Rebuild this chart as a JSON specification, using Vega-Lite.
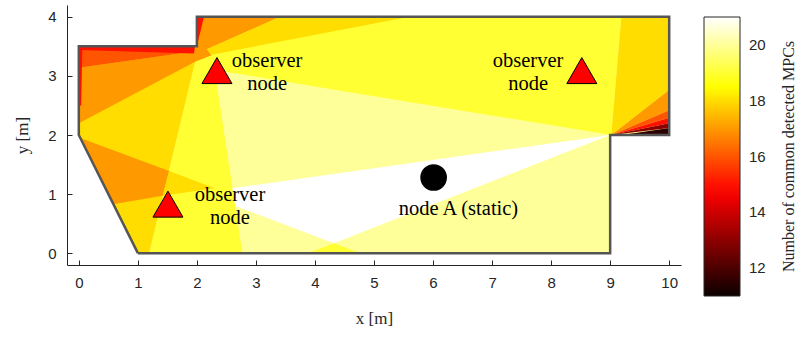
{
  "$schema": "https://vega.github.io/schema/vega-lite/v6.json",
  "width": 614,
  "height": 260,
  "autosize": "none",
  "padding": {"left": 67, "top": 5, "right": 121, "bottom": 74},
  "background": "white",
  "config": {
    "view": {"stroke": null},
    "axis": {
      "domainColor": "#262626", "tickColor": "#262626", "tickSize": -5, "grid": false, "format": "d",
      "labelFont": "Liberation Sans", "labelFontSize": 15, "labelColor": "#262626",
      "titleFont": "Liberation Serif", "titleFontSize": 17, "titleFontWeight": "normal", "titleColor": "#262626"
    }
  },
  "datasets": {
    "poly": [
      {"id": "p01", "o": 1, "x": 1, "y": 0, "v": 20},
      {"id": "p01", "o": 2, "x": 9, "y": 0, "v": 20},
      {"id": "p01", "o": 3, "x": 9, "y": 2, "v": 20},
      {"id": "p01", "o": 4, "x": 10, "y": 2, "v": 20},
      {"id": "p01", "o": 5, "x": 10, "y": 4, "v": 20},
      {"id": "p01", "o": 6, "x": 2, "y": 4, "v": 20},
      {"id": "p01", "o": 7, "x": 2, "y": 3.5, "v": 20},
      {"id": "p01", "o": 8, "x": 0, "y": 3.5, "v": 20},
      {"id": "p01", "o": 9, "x": 0, "y": 2, "v": 20},

      {"id": "p02", "o": 1, "x": 9.02, "y": 2.0, "v": 19},
      {"id": "p02", "o": 2, "x": 2.3, "y": 3.1, "v": 19},
      {"id": "p02", "o": 3, "x": 2.77, "y": 0, "v": 19},
      {"id": "p02", "o": 4, "x": 1.19, "y": 0, "v": 19},
      {"id": "p02", "o": 5, "x": 1.97, "y": 3.24, "v": 19},
      {"id": "p02", "o": 6, "x": 2.0, "y": 3.5, "v": 19},
      {"id": "p02", "o": 7, "x": 2.0, "y": 4.0, "v": 19},
      {"id": "p02", "o": 8, "x": 9.19, "y": 4.0, "v": 19},

      {"id": "p03", "o": 1, "x": 1, "y": 0, "v": 18},
      {"id": "p03", "o": 2, "x": 1.19, "y": 0, "v": 18},
      {"id": "p03", "o": 3, "x": 1.97, "y": 3.24, "v": 18},
      {"id": "p03", "o": 4, "x": 2.0, "y": 3.5, "v": 18},
      {"id": "p03", "o": 5, "x": 0, "y": 3.5, "v": 18},
      {"id": "p03", "o": 6, "x": 0, "y": 2, "v": 18},

      {"id": "p04", "o": 1, "x": 0, "y": 2.2, "v": 17},
      {"id": "p04", "o": 2, "x": 1.97, "y": 3.24, "v": 17},
      {"id": "p04", "o": 3, "x": 2.25, "y": 3.35, "v": 17},
      {"id": "p04", "o": 4, "x": 2.17, "y": 3.45, "v": 17},
      {"id": "p04", "o": 5, "x": 3.41, "y": 4.0, "v": 17},
      {"id": "p04", "o": 6, "x": 2.0, "y": 4.0, "v": 17},
      {"id": "p04", "o": 7, "x": 2.0, "y": 3.5, "v": 17},
      {"id": "p04", "o": 8, "x": 1.92, "y": 3.41, "v": 17},
      {"id": "p04", "o": 9, "x": 0, "y": 3.14, "v": 17},

      {"id": "p05", "o": 1, "x": 0, "y": 3.14, "v": 16},
      {"id": "p05", "o": 2, "x": 1.92, "y": 3.41, "v": 16},
      {"id": "p05", "o": 3, "x": 1.97, "y": 3.5, "v": 16},
      {"id": "p05", "o": 4, "x": 0, "y": 3.5, "v": 16},

      {"id": "p06", "o": 1, "x": 0, "y": 3.5, "v": 15},
      {"id": "p06", "o": 2, "x": 1.97, "y": 3.5, "v": 15},
      {"id": "p06", "o": 3, "x": 1.95, "y": 3.38, "v": 15},
      {"id": "p06", "o": 4, "x": 0, "y": 3.44, "v": 15},

      {"id": "p07", "o": 1, "x": 0, "y": 3.5, "v": 15},
      {"id": "p07", "o": 2, "x": 0.06, "y": 3.5, "v": 15},
      {"id": "p07", "o": 3, "x": 0.04, "y": 2.5, "v": 15},
      {"id": "p07", "o": 4, "x": 0, "y": 2.5, "v": 15},

      {"id": "p08", "o": 1, "x": 2.17, "y": 3.45, "v": 18},
      {"id": "p08", "o": 2, "x": 3.41, "y": 4.0, "v": 18},
      {"id": "p08", "o": 3, "x": 5.6, "y": 4.0, "v": 18},
      {"id": "p08", "o": 4, "x": 2.25, "y": 3.36, "v": 18},

      {"id": "p09", "o": 1, "x": 2.0, "y": 3.5, "v": 15},
      {"id": "p09", "o": 2, "x": 2.0, "y": 4.0, "v": 15},
      {"id": "p09", "o": 3, "x": 2.12, "y": 4.0, "v": 15},

      {"id": "p10", "o": 1, "x": 0.025, "y": 1.95, "v": 17},
      {"id": "p10", "o": 2, "x": 1.53, "y": 1.39, "v": 17},
      {"id": "p10", "o": 3, "x": 1.42, "y": 0.97, "v": 17},
      {"id": "p10", "o": 4, "x": 0.583, "y": 0.83, "v": 17},

      {"id": "p11", "o": 1, "x": 1.53, "y": 1.39, "v": 18},
      {"id": "p11", "o": 2, "x": 2.3, "y": 1.1, "v": 18},
      {"id": "p11", "o": 3, "x": 1.42, "y": 0.97, "v": 18},

      {"id": "p12", "o": 1, "x": 2.6, "y": 1.1, "v": 21},
      {"id": "p12", "o": 2, "x": 9.0, "y": 2.0, "v": 21},
      {"id": "p12", "o": 3, "x": 4.32, "y": 0.17, "v": 21},
      {"id": "p12", "o": 4, "x": 2.65, "y": 0.8, "v": 21},

      {"id": "p13", "o": 1, "x": 3.88, "y": 0, "v": 19},
      {"id": "p13", "o": 2, "x": 4.32, "y": 0.17, "v": 19},
      {"id": "p13", "o": 3, "x": 4.77, "y": 0, "v": 19},

      {"id": "p14", "o": 1, "x": 9.02, "y": 2.0, "v": 18},
      {"id": "p14", "o": 2, "x": 9.19, "y": 4.0, "v": 18},
      {"id": "p14", "o": 3, "x": 10, "y": 4.0, "v": 18},
      {"id": "p14", "o": 4, "x": 10, "y": 2.76, "v": 18},

      {"id": "p15", "o": 1, "x": 9.02, "y": 2.0, "v": 17},
      {"id": "p15", "o": 2, "x": 10, "y": 2.76, "v": 17},
      {"id": "p15", "o": 3, "x": 10, "y": 2.42, "v": 17},

      {"id": "p16", "o": 1, "x": 9.02, "y": 2.0, "v": 16},
      {"id": "p16", "o": 2, "x": 10, "y": 2.42, "v": 16},
      {"id": "p16", "o": 3, "x": 10, "y": 2.29, "v": 16},

      {"id": "p17", "o": 1, "x": 9.02, "y": 2.0, "v": 15},
      {"id": "p17", "o": 2, "x": 10, "y": 2.29, "v": 15},
      {"id": "p17", "o": 3, "x": 10, "y": 2.2, "v": 15},

      {"id": "p18", "o": 1, "x": 9.02, "y": 2.0, "v": 13},
      {"id": "p18", "o": 2, "x": 10, "y": 2.2, "v": 13},
      {"id": "p18", "o": 3, "x": 10, "y": 2.12, "v": 13},

      {"id": "p19", "o": 1, "x": 9.2, "y": 2.0, "v": 11.5},
      {"id": "p19", "o": 2, "x": 10, "y": 2.12, "v": 11.5},
      {"id": "p19", "o": 3, "x": 10, "y": 2.0, "v": 11.5}
    ],
    "wall": [
      {"o": 1, "x": 1, "y": 0},
      {"o": 2, "x": 9, "y": 0},
      {"o": 3, "x": 9, "y": 2},
      {"o": 4, "x": 10, "y": 2},
      {"o": 5, "x": 10, "y": 4},
      {"o": 6, "x": 2, "y": 4},
      {"o": 7, "x": 2, "y": 3.5},
      {"o": 8, "x": 0, "y": 3.5},
      {"o": 9, "x": 0, "y": 2},
      {"o": 10, "x": 1, "y": 0}
    ],
    "observers": [
      {"x": 2.34, "y": 3.09},
      {"x": 8.52, "y": 3.09},
      {"x": 1.51, "y": 0.83}
    ],
    "nodeA": [
      {"x": 6.01, "y": 1.28}
    ],
    "labels": [
      {"x": 3.19, "y": 3.25, "t": "observer\nnode"},
      {"x": 7.61, "y": 3.25, "t": "observer\nnode"},
      {"x": 2.56, "y": 0.99, "t": "observer\nnode"},
      {"x": 6.43, "y": 0.74, "t": "node A (static)"}
    ],
    "cbtitle": [
      {"d": 0}
    ]
  },
  "layer": [
    {
      "layer": [
        {
          "data": {"name": "poly"},
          "mark": {"type": "line", "strokeWidth": 0, "interpolate": "linear"},
          "encoding": {
            "x": {"field": "x", "type": "quantitative",
                  "scale": {"domain": [-0.2, 10.2], "nice": false, "zero": false},
                  "axis": {"title": "x [m]", "values": [0,1,2,3,4,5,6,7,8,9,10], "labelPadding": 15, "titlePadding": 20}},
            "y": {"field": "y", "type": "quantitative",
                  "scale": {"domain": [-0.2, 4.2], "nice": false, "zero": false},
                  "axis": {"title": "y [m]", "values": [0,1,2,3,4], "labelPadding": 16, "titlePadding": 16}},
            "detail": {"field": "id"},
            "order": {"field": "o", "type": "quantitative"},
            "fill": {"field": "v", "type": "quantitative",
                     "scale": {"type": "linear", "domain": [11, 14.75, 18.5, 21], "range": ["#0b0000", "#ff0000", "#ffff00", "#ffffff"], "interpolate": "rgb", "clamp": true},
                     "legend": {
                       "type": "gradient",
                       "orient": "none", "legendX": 637, "legendY": 12, "direction": "vertical",
                       "gradientLength": 279, "gradientThickness": 36,
                       "gradientStrokeColor": "#262626", "gradientStrokeWidth": 1,
                       "values": [12, 14, 16, 18, 20], "labelOverlap": false, "format": "d",
                       "labelFont": "Liberation Sans", "labelFontSize": 15, "labelColor": "#262626", "labelOffset": 9,
                       "title": null, "padding": 0
                     }}
          }
        },
        {
          "data": {"name": "wall"},
          "mark": {"type": "line", "stroke": "#555555", "strokeWidth": 2.5, "strokeJoin": "miter"},
          "encoding": {
            "x": {"field": "x", "type": "quantitative"},
            "y": {"field": "y", "type": "quantitative"},
            "order": {"field": "o", "type": "quantitative"}
          }
        },
        {
          "data": {"name": "observers"},
          "mark": {"type": "point", "shape": "triangle-up", "filled": true, "fill": "#ff0000", "stroke": "#000000", "strokeWidth": 1, "size": 900, "opacity": 1},
          "encoding": {
            "x": {"field": "x", "type": "quantitative"},
            "y": {"field": "y", "type": "quantitative"}
          }
        },
        {
          "data": {"name": "nodeA"},
          "mark": {"type": "point", "shape": "circle", "filled": true, "fill": "#000000", "stroke": null, "size": 710, "opacity": 1},
          "encoding": {
            "x": {"field": "x", "type": "quantitative"},
            "y": {"field": "y", "type": "quantitative"}
          }
        },
        {
          "data": {"name": "labels"},
          "mark": {"type": "text", "font": "Liberation Serif", "fontSize": 20.5, "lineBreak": "\n", "lineHeight": 23, "align": "center", "baseline": "middle", "color": "#000000"},
          "encoding": {
            "x": {"field": "x", "type": "quantitative"},
            "y": {"field": "y", "type": "quantitative"},
            "text": {"field": "t"}
          }
        }
      ]
    },
    {
      "data": {"name": "cbtitle"},
      "mark": {"type": "point", "opacity": 0, "size": 0},
      "encoding": {
        "y": {"field": "d", "type": "quantitative",
              "axis": {"orient": "right", "title": "Number of common detected MPCs",
                       "domain": false, "ticks": false, "labels": false, "grid": false,
                       "titleAngle": 270, "titleX": 107, "titleY": 151, "titleAlign": "center", "titleBaseline": "middle",
                       "titleFont": "Liberation Serif", "titleFontSize": 16, "titleLimit": 400}}
      }
    }
  ],
  "resolve": {"scale": {"y": "independent"}, "axis": {"y": "independent"}}
}
